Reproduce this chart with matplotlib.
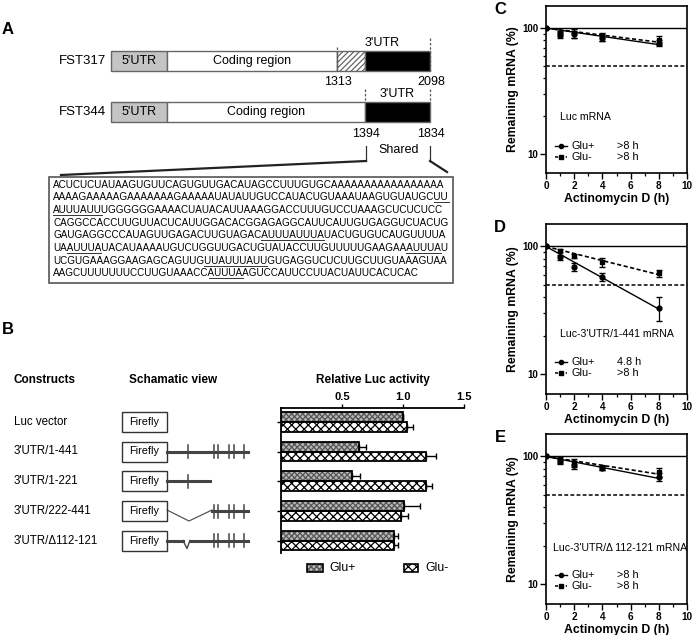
import numpy as np
import matplotlib
matplotlib.use('Agg')
import matplotlib.pyplot as plt
from matplotlib.patches import Rectangle

plt.rcParams['font.family'] = ['Liberation Sans', 'DejaVu Sans']
plt.rcParams['hatch.linewidth'] = 0.9

W, H = 693, 635

# ---- panel A ----
seq_lines = [
    "ACUCUCUAUAAGUGUUCAGUGUUGACAUAGCCUUUGUGCAAAAAAAAAAAAAAAAA",
    "AAAAGAAAAAGAAAAAAAGAAAAAUAUAUUGUCCAUACUGUAAAUAAGUGUAUGC[UU]",
    "[AUUUAUU]UGGGGGGAAAACUAUACAUUAAAGGACCUUUGUCCUAAAGCUCUCUCC",
    "CAGGCCACCUUGUUACUCAUUGGACACGGAGAGGCAUUCAUUGUGAGGUCUACUG",
    "GAUGAGGCCCAUAGUUGAGACUUGUAGAC[AUUUAUUUA]UACUGUGUCAUGUUUUA",
    "UA[AUUUA]UACAUAAAAUGUCUGGUUGACUGUAUACCUUGUUUUUGAAGAA[AUUUA]U",
    "UCGUGAAAGGAAGAGCAGUUG[UUAUUUAUU]GUGAGGUCUCUUGCUUGUAAAGUAA",
    "AAGCUUUUUUUCCUUGUAAACC[AUUUA]AGUCCAUUCCUUACUAUUCACUCAC",
]

# ---- panel B ----
constructs = ["Luc vector", "3'UTR/1-441", "3'UTR/1-221", "3'UTR/222-441", "3'UTR/\u0394112-121"]
luc_glu_pos = [1.00, 0.64, 0.58, 1.01, 0.93]
luc_glu_pos_err = [0.00, 0.06, 0.07, 0.13, 0.03]
luc_glu_neg = [1.03, 1.19, 1.19, 0.98, 0.93]
luc_glu_neg_err = [0.05, 0.08, 0.05, 0.06, 0.03]

# ---- panels C-E ----
hours = np.array([0, 1, 2, 4, 8])
c_pos = [100, 90, 89, 84, 76]
c_pos_err = [0, 4, 6, 5, 4]
c_neg = [100, 88, 91, 85, 80]
c_neg_err = [0, 5, 7, 6, 6]
d_pos = [100, 82, 69, 58, 33]
d_pos_err = [0, 4, 5, 4, 7]
d_neg = [100, 93, 84, 75, 62]
d_neg_err = [0, 3, 3, 6, 4]
e_pos = [100, 92, 86, 81, 69]
e_pos_err = [0, 4, 6, 3, 5]
e_neg = [100, 94, 89, 82, 75]
e_neg_err = [0, 5, 6, 3, 6]
half_lives = {'C': ('>8 h', '>8 h'), 'D': ('4.8 h', '>8 h'), 'E': ('>8 h', '>8 h')}

fig = plt.figure(figsize=(W / 100, H / 100), dpi=100)
bg = fig.add_axes([0, 0, 1, 1])
bg.set_xlim(0, W)
bg.set_ylim(H, 0)
bg.axis('off')


def px_axes(l, t, r, b):
    a = fig.add_axes([l / W, 1 - b / H, (r - l) / W, (b - t) / H])
    a.patch.set_visible(False)
    return a


# ================= A =================
bg.text(8, 29, 'A', fontsize=12, fontweight='bold', ha='center', va='center')
edge = '#666666'
for y0, label, parts in [
    (51, 'FST317', [(111, 167, '#c4c4c4', None), (167, 337, 'white', None),
                    (337, 365, 'white', '//////'), (365, 430, 'black', None)]),
    (102, 'FST344', [(111, 167, '#c4c4c4', None), (167, 365, 'white', None),
                     (365, 430, 'black', None)]),
]:
    bg.text(106, y0 + 10, label, ha='right', va='center', fontsize=9.5)
    for x0, x1, fc, hatch in parts:
        bg.add_patch(Rectangle((x0, y0), x1 - x0, 20, facecolor=fc, edgecolor=edge,
                               hatch=hatch, lw=1))
    bg.text(139, y0 + 10, "5'UTR", ha='center', va='center', fontsize=9)
    bg.text(parts[1][0] + (parts[1][1] - parts[1][0]) / 2, y0 + 10, 'Coding region',
            ha='center', va='center', fontsize=9)

dash = dict(color='#555555', lw=0.9, ls=(0, (2, 1.5)))
bg.plot([337, 337], [47, 73], **dash)
bg.plot([430, 430], [38, 73], **dash)
bg.text(382, 43, "3'UTR", ha='center', va='center', fontsize=9)
bg.text(338, 82, '1313', ha='center', va='center', fontsize=9)
bg.text(431, 82, '2098', ha='center', va='center', fontsize=9)
bg.plot([365, 365], [89, 102], **dash)
bg.plot([430, 430], [89, 102], **dash)
bg.text(397, 94, "3'UTR", ha='center', va='center', fontsize=9)
bg.text(366, 134, '1394', ha='center', va='center', fontsize=9)
bg.text(431, 134, '1834', ha='center', va='center', fontsize=9)
bg.text(399, 150, 'Shared', ha='center', va='center', fontsize=9)
bg.plot([366, 366], [146, 161], color='#333333', lw=0.9)
bg.plot([430, 430], [146, 161], color='#333333', lw=0.9)
bg.plot([366, 61], [161, 175], color='#222222', lw=1.6)
bg.plot([430, 447], [161, 172], color='#222222', lw=1.6)
bg.add_patch(Rectangle((49, 177), 404, 106, facecolor='white', edgecolor='#555555', lw=1.2))

renderer = fig.canvas.get_renderer()
seq_kw = dict(fontsize=7.1, va='baseline', ha='left', color='black')


def text_width(s):
    if not s:
        return 0.0
    t = bg.text(0, 100, s, **seq_kw)
    w = t.get_window_extent(renderer=renderer).width
    t.remove()
    return w


for i, raw in enumerate(seq_lines):
    plain = raw.replace('[', '').replace(']', '')
    yb = 187.5 + i * 12.7
    bg.text(53, yb, plain, **seq_kw)
    pos = 0
    start = None
    for ch in raw:
        if ch == '[':
            start = pos
        elif ch == ']':
            x0 = 53 + text_width(plain[:start])
            x1 = 53 + text_width(plain[:pos])
            bg.plot([x0, x1], [yb + 1.8, yb + 1.8], color='#333333', lw=0.7)
        else:
            pos += 1

# ================= B =================
bg.text(8, 330, 'B', fontsize=12, fontweight='bold', ha='center', va='center')
bg.text(14, 380, 'Constructs', fontsize=8.5, fontweight='bold', va='center')
bg.text(129, 380, 'Schamatic view', fontsize=8.5, fontweight='bold', va='center')
bg.text(373, 380, 'Relative Luc activity', fontsize=8.5, fontweight='bold',
        ha='center', va='center')

row_y = [422, 451.5, 481, 511, 540.5]
are_x = [188, 214, 218, 229, 234, 244]
line_c = '#444444'
for i, (name, ry) in enumerate(zip(constructs, row_y)):
    bg.text(14, ry, name, fontsize=8.3, va='center')
    bg.add_patch(Rectangle((122, ry - 10), 45, 20, facecolor='white', edgecolor='#333333', lw=1))
    bg.text(144.5, ry, 'Firefly', fontsize=7.8, ha='center', va='center')
    if i == 1:
        bg.plot([167, 248], [ry, ry], color=line_c, lw=2.2)
        ticks = are_x
    elif i == 2:
        bg.plot([167, 210], [ry, ry], color=line_c, lw=2.2)
        ticks = are_x[:1]
    elif i == 3:
        bg.plot([167, 189, 212], [ry - 1, ry + 10, ry - 1], color=line_c, lw=0.8)
        bg.plot([212, 248], [ry, ry], color=line_c, lw=2.2)
        ticks = are_x[1:]
    elif i == 4:
        bg.plot([167, 183], [ry, ry], color=line_c, lw=2.2)
        bg.plot([183, 187, 190], [ry, ry + 8, ry], color=line_c, lw=1)
        bg.plot([190, 248], [ry, ry], color=line_c, lw=2.2)
        ticks = are_x[1:]
    else:
        ticks = []
    for tx in ticks:
        bg.plot([tx, tx], [ry - 6.5, ry + 6.5], color=line_c, lw=1.1)

axb = px_axes(281, 408, 464, 553)
idx = np.arange(len(constructs))
bh = 0.33
pos_style = dict(facecolor='#b8b8b8', edgecolor='#555555', hatch='xxxxxx', lw=0)
neg_style = dict(facecolor='white', edgecolor='black', hatch='xxxx', lw=0)
axb.barh(idx - bh / 2, luc_glu_pos, height=bh, **pos_style)
axb.barh(idx + bh / 2, luc_glu_neg, height=bh, **neg_style)
axb.barh(idx - bh / 2, luc_glu_pos, height=bh, facecolor='none', edgecolor='black', lw=1.3)
axb.barh(idx + bh / 2, luc_glu_neg, height=bh, facecolor='none', edgecolor='black', lw=1.3)
zeros = np.zeros(len(idx))
axb.errorbar(luc_glu_pos, idx - bh / 2, xerr=[zeros, luc_glu_pos_err], fmt='none',
             ecolor='black', elinewidth=1, capsize=2.5)
axb.errorbar(luc_glu_neg, idx + bh / 2, xerr=[zeros, luc_glu_neg_err], fmt='none',
             ecolor='black', elinewidth=1, capsize=2.5)
axb.set_xlim(0, 1.5)
axb.set_ylim(4.42, -0.47)
axb.xaxis.tick_top()
axb.set_xticks([0.5, 1.0, 1.5])
axb.set_xticklabels(['0.5', '1.0', '1.5'], fontweight='bold', fontsize=8)
axb.set_yticks(idx)
axb.set_yticklabels([])
axb.tick_params(axis='both', direction='out', length=3, width=1, pad=1)
axb.spines['right'].set_visible(False)
axb.spines['bottom'].set_visible(False)
for s in ['left', 'top']:
    axb.spines[s].set_linewidth(1.3)

# legend of B
for x0, w, st, lab, tx in [(307, 16, pos_style, 'Glu+', 329), (404, 14, neg_style, 'Glu-', 425)]:
    bg.add_patch(Rectangle((x0, 564), w, 8, **st))
    bg.add_patch(Rectangle((x0, 564), w, 8, facecolor='none', edgecolor='black', lw=1.2))
    bg.text(tx, 568, lab, fontsize=8.8, va='center')

# ================= C-E =================
def decay_fit(t, y):
    t = np.asarray(t, float)
    ly = np.log(np.asarray(y, float) / 100.0)
    k = -np.sum(t * ly) / np.sum(t * t)
    tt = np.linspace(0, t.max(), 50)
    return tt, 100 * np.exp(-k * tt)


panels = [
    ('C', 6, 173, c_pos, c_pos_err, c_neg, c_neg_err, 'Luc mRNA', 560, 117, (146, 156.5)),
    ('D', 224, 394, d_pos, d_pos_err, d_neg, d_neg_err, "Luc-3'UTR/1-441 mRNA", 560, 334, (362, 373)),
    ('E', 434, 604, e_pos, e_pos_err, e_neg, e_neg_err, "Luc-3'UTR/\u0394 112-121 mRNA", 553, 548, (575, 586)),
]
dashes = (0, (2.5, 1.5))
for letter, top, bot, yp, yp_err, yn, yn_err, name, nx, ny, leg_y in panels:
    ax = px_axes(546, top, 687, bot)
    ax.set_yscale('log')
    ax.axhline(100, color='black', lw=1)
    ax.axhline(50, color='black', lw=1.1, ls=dashes)
    tt, fp = decay_fit(hours, yp)
    ax.plot(tt, fp, color='black', lw=1)
    tt, fn = decay_fit(hours, yn)
    ax.plot(tt, fn, color='black', lw=1.2, ls=dashes)
    ax.errorbar(hours, yp, yerr=yp_err, fmt='o', color='black', ms=3.5, elinewidth=0.9,
                capsize=2)
    ax.errorbar(hours, yn, yerr=yn_err, fmt='s', color='black', ms=3.3, elinewidth=0.9,
                capsize=2)
    ax.set_xlim(0, 10)
    ax.set_ylim(7, 150)
    ax.set_xticks([0, 2, 4, 6, 8, 10])
    ax.set_xticks([1, 3, 5, 7, 9], minor=True)
    ax.set_xticklabels(['0', '2', '4', '6', '8', '10'], fontweight='bold', fontsize=7.2)
    ax.set_yticks([10, 100])
    ax.set_yticks([20, 30, 40, 50, 60, 70, 80, 90], minor=True)
    ax.set_yticklabels(['10', '100'], fontweight='bold', fontsize=7)
    ax.yaxis.set_minor_formatter(matplotlib.ticker.NullFormatter())
    ax.tick_params(which='major', length=4, width=1, pad=1.5)
    ax.tick_params(which='minor', length=2.5, width=0.9)
    for s in ax.spines.values():
        s.set_linewidth(1.2)
    ax.set_ylabel('Remaining mRNA (%)', fontweight='bold', fontsize=8.8, labelpad=2)
    ax.set_xlabel('Actinomycin D (h)', fontweight='bold', fontsize=8.8, labelpad=2)
    bg.text(500, top + 4, letter, fontsize=12, fontweight='bold', ha='center', va='center')
    bg.text(nx, ny, name, fontsize=7.6, va='center')
    hp, hn = half_lives[letter]
    bg.plot([555, 567], [leg_y[0]] * 2, color='black', lw=1)
    bg.plot([561], [leg_y[0]], 'o', color='black', ms=3)
    bg.plot([555, 567], [leg_y[1]] * 2, color='black', lw=1.1, ls=(0, (2, 1.5)))
    bg.plot([561], [leg_y[1]], 's', color='black', ms=3)
    bg.text(572, leg_y[0], 'Glu+', fontsize=7.8, va='center')
    bg.text(572, leg_y[1], 'Glu-', fontsize=7.8, va='center')
    bg.text(617, leg_y[0], hp, fontsize=7.8, va='center')
    bg.text(617, leg_y[1], hn, fontsize=7.8, va='center')

fig.savefig('out.png', dpi=100)
